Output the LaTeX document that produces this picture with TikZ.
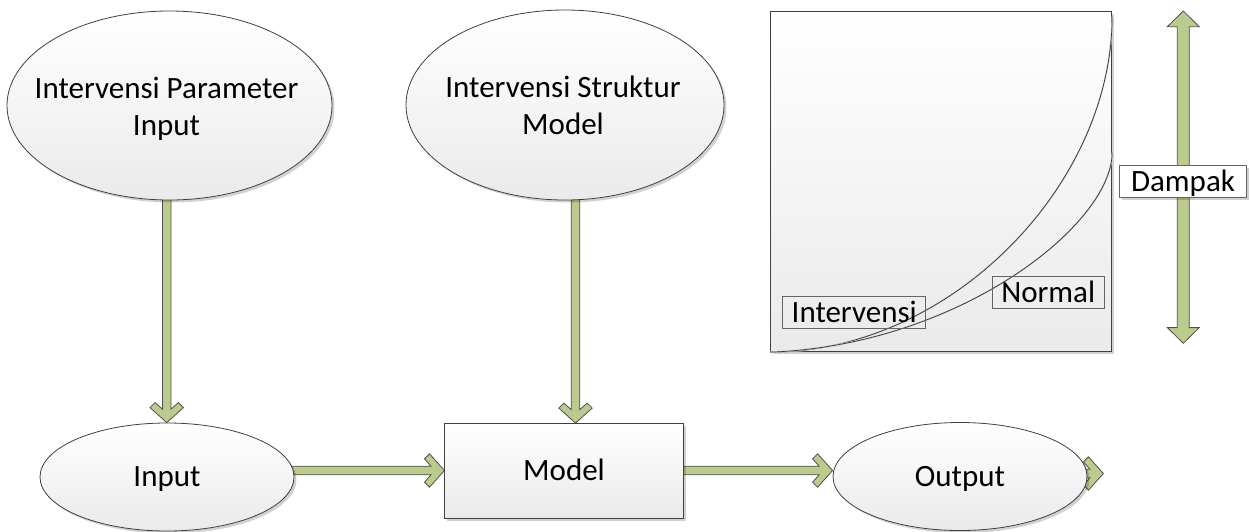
\documentclass[tikz,border=0pt]{standalone}
\usepackage{fontspec}
\setmainfont{Carlito}
\usetikzlibrary{shapes.geometric,calc,shadows}
\pgfdeclarelayer{bg}
\pgfsetlayers{bg,main}
\definecolor{arrowgreen}{RGB}{187,203,141}
\definecolor{arrowedge}{RGB}{80,80,80}
\definecolor{edgegray}{RGB}{64,64,64}
\definecolor{shadegray}{RGB}{234,234,234}
\definecolor{boxedge}{RGB}{100,100,100}

\tikzset{
  x=1pt, y=-1pt,
  txt/.style={font=\fontsize{31}{37}\selectfont},
  onetxt/.style={txt, text height=23.5pt, text depth=4.5pt},
  softshadow/.style={drop shadow={shadow xshift=2.5pt, shadow yshift=-2.5pt, fill=black, opacity=0.18}},
  ellip/.style={ellipse, draw=edgegray, line width=0.8pt, inner sep=0pt,
     top color=white, bottom color=shadegray, softshadow},
  blockbox/.style={rectangle, draw=edgegray, line width=0.8pt, inner sep=0pt,
     top color=white, bottom color=shadegray, softshadow},
  lbl/.style={rectangle, draw=boxedge, line width=0.8pt, inner sep=0pt,
     minimum height=31.6pt, onetxt},
  fatarrow/.style={fill=arrowgreen, draw=arrowedge, line width=0.8pt, line join=miter},
  curve/.style={draw=black!80, line width=0.7pt,
     preaction={draw=black!18, line width=1.6pt, xshift=1.2pt, yshift=-1.2pt}}
}

% chevron-headed fat arrow from #1 to tip #2
\newcommand{\chevarrow}[2]{%
  \filldraw[fatarrow]
    ($(#1)!4.3pt!90:(#2)$) --
    ($(#2)!13.5pt!(#1)!4.3pt!-90:(#1)$) --
    ($(#2)!20pt!(#1)!11.7pt!-90:(#1)$) --
    ($(#2)!15pt!(#1)!16.7pt!-90:(#1)$) --
    (#2) --
    ($(#2)!15pt!(#1)!16.7pt!90:(#1)$) --
    ($(#2)!20pt!(#1)!11.7pt!90:(#1)$) --
    ($(#2)!13.5pt!(#1)!4.3pt!90:(#1)$) --
    ($(#1)!4.3pt!-90:(#2)$) -- cycle;%
}

% double-headed fat arrow between tips #1 and #2
\newcommand{\dblarrow}[2]{%
  \filldraw[fatarrow]
    (#1) --
    ($(#1)!15.7pt!(#2)!16pt!90:(#2)$) --
    ($(#1)!15.7pt!(#2)!6pt!90:(#2)$) --
    ($(#2)!15.7pt!(#1)!6pt!-90:(#1)$) --
    ($(#2)!15.7pt!(#1)!16pt!-90:(#1)$) --
    (#2) --
    ($(#2)!15.7pt!(#1)!16pt!90:(#1)$) --
    ($(#2)!15.7pt!(#1)!6pt!90:(#1)$) --
    ($(#1)!15.7pt!(#2)!6pt!-90:(#2)$) --
    ($(#1)!15.7pt!(#2)!16pt!-90:(#2)$) -- cycle;%
}

\begin{document}
\begin{tikzpicture}
\useasboundingbox (0,0) rectangle (1251,531);

% ---------- flow nodes ----------
\node[ellip, minimum width=325pt, minimum height=189pt] (e1) at (169.5,105.5) {};
\node[txt, align=center] (e1t) at (166.5,108.5) {Intervensi Parameter\\Input};

\node[ellip, minimum width=318pt, minimum height=190pt] (e2) at (565,105) {};
\node[txt, align=center] (e2t) at (563,105) {Intervensi Struktur\\Model};

\node[ellip, onetxt, minimum width=254pt, minimum height=108pt] (inp) at (167,477) {Input};
\node[blockbox, onetxt, minimum width=238.3pt, minimum height=95pt] (model) at (564,471) {Model};
\node[ellip, onetxt, minimum width=254pt, minimum height=108pt] (out) at (960,476.5) {Output};

% ---------- connector end points ----------
\coordinate (a1s) at ($(e1.south)+(-2.8,-6)$);
\coordinate (a1t) at (a1s |- inp.north);
\coordinate (a2s) at ($(e2.south)+(10.5,-6)$);
\coordinate (a2t) at (a2s |- model.north);
\coordinate (a3s) at ($(inp.east)+(-8,-6.5)$);
\coordinate (a3t) at (a3s -| model.west);
\coordinate (a4s) at ($(model.east)+(-6,-0.5)$);
\coordinate (a4t) at (a4s -| out.west);
\coordinate (a5s) at ($(out.east)+(-30,-3)$);
\coordinate (a5t) at ($(out.east)+(16,-3)$);

\begin{pgfonlayer}{bg}
  \chevarrow{a1s}{a1t}
  \chevarrow{a2s}{a2t}
  \chevarrow{a3s}{a3t}
  \chevarrow{a4s}{a4t}
  \chevarrow{a5s}{a5t}
\end{pgfonlayer}

% ---------- chart ----------
\node[blockbox, minimum width=341pt, minimum height=340.7pt] (plot) at (941.2,181.4) {};
\draw[curve] (plot.south west) .. controls ($(plot.south west)+(180,0)$) and ($(plot.north east)+(0,175)$) .. ($(plot.north east)+(0,6)$);
\draw[curve] (plot.south west) .. controls ($(plot.south west)+(189,-7)$) and ($(plot.north east)+(0,214)$) .. ($(plot.north east)+(0,142)$);

\node[lbl, minimum width=143pt] (lint) at (854.2,312.5) {Intervensi};
\node[lbl, minimum width=111.7pt] (lnorm) at (1048.2,292.5) {Normal};

\coordinate (dtop) at (1183.3,11);
\coordinate (dbot) at (1183.3,343.3);
\dblarrow{dtop}{dbot}
\node[lbl, fill=white, minimum width=127.4pt, softshadow] (damp) at (1183,181.5) {Dampak};
\end{tikzpicture}
\end{document}
